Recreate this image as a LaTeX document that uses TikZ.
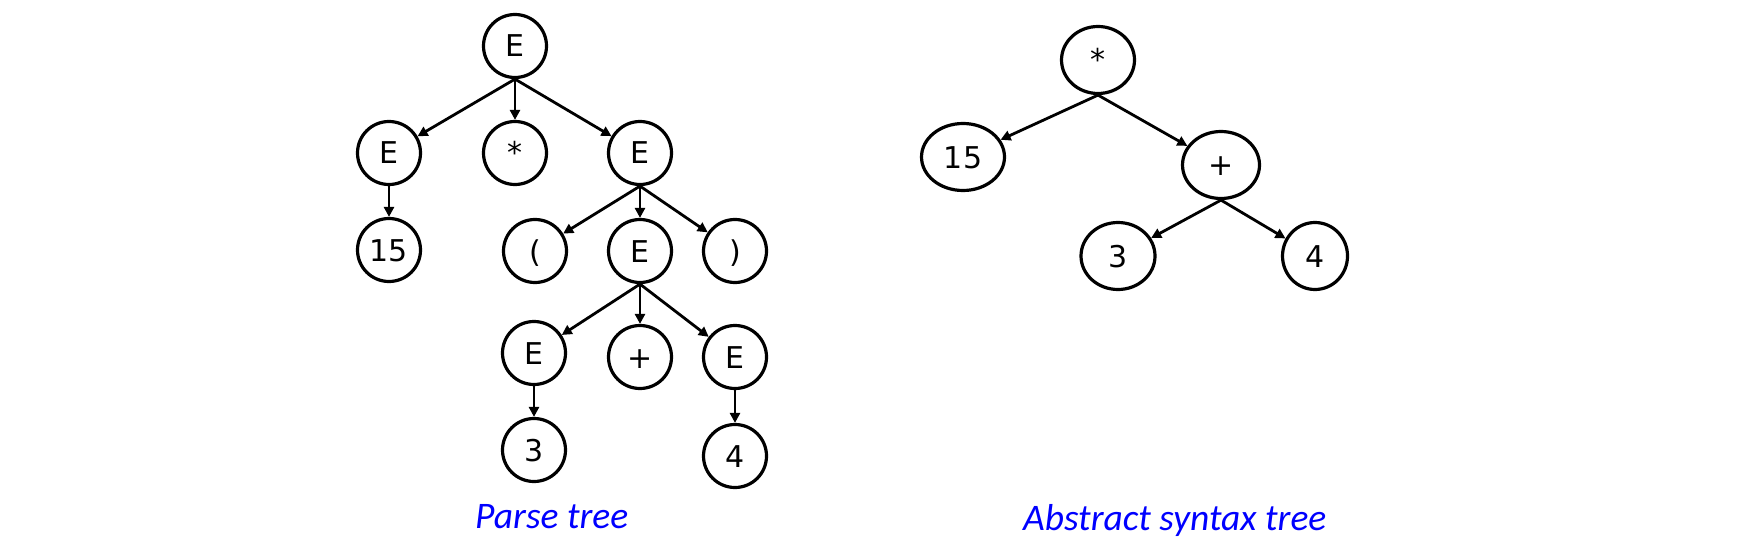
\documentclass[tikz,border=0pt]{standalone}
\usepackage{fontspec}
\setmainfont{DejaVu Sans}
\newfontfamily\labelfont{Carlito}
\usetikzlibrary{shapes.geometric,arrows.meta}
\definecolor{lblblue}{RGB}{0,0,255}
\tikzset{
  tn/.style={circle,draw,line width=3.2pt,minimum size=63pt,inner sep=0pt,
    font=\fontsize{30}{30}\selectfont,text height=22pt,text depth=0pt},
  en/.style={ellipse,draw,line width=3.2pt,minimum height=67pt,inner sep=0pt,
    font=\fontsize{30}{30}\selectfont,text height=22pt,text depth=0pt},
  ar/.style={line width=2.8pt,-{Triangle[length=10pt,width=10pt]}},
  lbl/.style={text=lblblue,font=\labelfont\itshape\fontsize{37.5}{37.5}\selectfont,anchor=base west,inner sep=0pt}
}
\begin{document}
\begin{tikzpicture}[x=1pt,y=-1pt]
\useasboundingbox (0,0) rectangle (1744,556);
% Parse tree
\node[tn] (r) at (515,46) {E};
\node[tn] (el) at (389,153) {E};
\node[tn] (st) at (515,153) {*};
\node[tn] (er) at (640,153) {E};
\node[tn] (n15) at (389,250) {15};
\node[tn] (lp) at (535,251) {(};
\node[tn] (em) at (640,251) {E};
\node[tn] (rp) at (735,251) {)};
\node[tn] (e3) at (534,353) {E};
\node[tn] (pl) at (640,357) {+};
\node[tn] (e4) at (735,357) {E};
\node[tn] (n3) at (534,450) {3};
\node[tn] (n4) at (735,456) {4};
\draw[ar] (r.south) -- (el);
\draw[ar] (r.south) -- (st);
\draw[ar] (r.south) -- (er);
\draw[ar] (el.south) -- (n15);
\draw[ar] (er.south) -- (lp);
\draw[ar] (er.south) -- (em);
\draw[ar] (er.south) -- (rp);
\draw[ar] (em.south) -- (e3);
\draw[ar] (em.south) -- (pl);
\draw[ar] (em.south) -- (e4);
\draw[ar] (e3.south) -- (n3);
\draw[ar] (e4.south) -- (n4);
% AST
\node[en,minimum width=73pt] (a) at (1098,60) {*};
\node[en,minimum width=83pt] (a15) at (963,157) {15};
\node[en,minimum width=77pt] (ap) at (1221,165) {+};
\node[en,minimum width=74pt] (a3) at (1118,256) {3};
\node[en,minimum width=65pt] (a4) at (1315,256) {4};
\draw[ar] (a.south) -- (a15);
\draw[ar] (a.south) -- (ap);
\draw[ar] (ap.south) -- (a3);
\draw[ar] (ap.south) -- (a4);
% labels
\node[lbl] (l1) at (475,528) {Parse tree};
\node[lbl] (l2) at (1023,530) {Abstract syntax tree};
\end{tikzpicture}
\end{document}
